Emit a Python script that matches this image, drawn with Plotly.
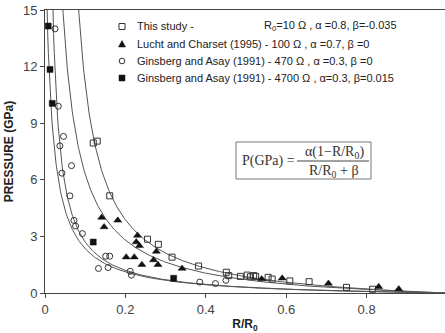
import numpy as np
import plotly.graph_objects as go

# ---- data ----
study_x = [0.12, 0.13, 0.161, 0.255, 0.282, 0.316, 0.382, 0.451, 0.457, 0.486, 0.503, 0.511,
           0.519, 0.524, 0.555, 0.565, 0.609, 0.657, 0.75, 0.815]
study_y = [7.95, 8.05, 5.15, 2.85, 2.58, 1.9, 1.43, 1.1, 0.92, 0.88, 0.95, 0.86,
           0.92, 0.88, 0.83, 0.74, 0.64, 0.6, 0.3, 0.2]

lucht_x = [0.141, 0.147, 0.181, 0.23, 0.227, 0.235, 0.202, 0.222, 0.241, 0.277, 0.27,
           0.281, 0.341, 0.539, 0.59, 0.705, 0.83, 0.88]
lucht_y = [4.0, 3.5, 3.85, 3.05, 2.7, 2.5, 1.9, 1.9, 1.5, 2.2, 1.75,
           1.5, 1.3, 0.74, 0.78, 0.51, 0.33, 0.21]

g470_x = [0.025, 0.033, 0.046, 0.037, 0.066, 0.042, 0.062, 0.072, 0.076, 0.093, 0.151,
          0.161, 0.133, 0.157, 0.212, 0.215, 0.385, 0.424, 0.45]
g470_y = [14.0, 9.9, 8.3, 7.8, 6.75, 6.35, 5.15, 3.85, 3.55, 3.15, 1.95,
          1.95, 1.3, 1.35, 1.15, 0.95, 0.58, 0.5, 0.67]

g4700_x = [0.008, 0.0125, 0.018, 0.12, 0.32, 1.0]
g4700_y = [14.15, 11.85, 10.05, 2.7, 0.78, 0.0]

# fit parameters (alpha, beta) for P = alpha(1-x)/(x+beta)
fits = [(0.8, -0.035), (0.7, 0.0), (0.3, 0.0), (0.3, 0.015)]

legend_left = ["This study -",
               "Lucht and Charset (1995) - 100 \u03a9 , \u03b1 =0.7, \u03b2 =0",
               "Ginsberg and Asay (1991) - 470 \u03a9 , \u03b1 =0.3, \u03b2 =0",
               "Ginsberg and Asay (1991) - 4700 \u03a9 , \u03b1=0.3, \u03b2=0.015"]
legend_extra = "R<sub>0</sub>=10 \u03a9 , \u03b1 =0.8, \u03b2=-0.035"

ink = "#333333"
dark = "#111111"
curve_col = "#555555"

# plot-area geometry in pixels (for paper-coordinate decorations)
L, T, W, H = 45, 10, 400, 283
def px(xp): return (xp - L) / W
def py(yp): return (T + H - yp) / H

fig = go.Figure()

# fit curves
for a, b in fits:
    x0 = (a - 20 * b) / (20 + a)  # where P ~ 20 (above the plot top)
    xs = np.linspace(max(x0, 1e-4), 1.0, 600)
    ys = a * (1 - xs) / (xs + b)
    fig.add_trace(go.Scatter(x=xs, y=ys, mode="lines", showlegend=False,
                             line=dict(color=curve_col, width=1), hoverinfo="skip"))

fig.add_trace(go.Scatter(x=study_x, y=study_y, mode="markers", showlegend=False,
                         marker=dict(symbol="square-open", color=ink, size=6,
                                     line=dict(color=ink, width=1)), cliponaxis=False))
fig.add_trace(go.Scatter(x=lucht_x, y=lucht_y, mode="markers", showlegend=False,
                         marker=dict(symbol="triangle-up", color=dark, size=7,
                                     line=dict(color=dark, width=0.5)), cliponaxis=False))
fig.add_trace(go.Scatter(x=g470_x, y=g470_y, mode="markers", showlegend=False,
                         marker=dict(symbol="circle-open", color=ink, size=6,
                                     line=dict(color=ink, width=1)), cliponaxis=False))
fig.add_trace(go.Scatter(x=g4700_x, y=g4700_y, mode="markers", showlegend=False,
                         marker=dict(symbol="square", color=dark, size=6,
                                     line=dict(color=dark, width=0.5)), cliponaxis=False))

# ---- hand-made legend (tight row spacing like the reference) ----
rows_y = [26.5, 44, 61, 78]
mx = 122
sans = dict(family="Liberation Sans, Arial", size=11, color="#222222")
# markers
r = 3
fig.add_shape(type="rect", xref="paper", yref="paper",
              x0=px(mx - r), x1=px(mx + r), y0=py(rows_y[0] + r), y1=py(rows_y[0] - r),
              line=dict(color=ink, width=1), fillcolor="white")
ty = rows_y[1]
fig.add_shape(type="path", xref="paper", yref="paper",
              path=f"M {px(mx-3.5)} {py(ty+3)} L {px(mx+3.5)} {py(ty+3)} L {px(mx)} {py(ty-3.5)} Z",
              line=dict(color=dark, width=0.5), fillcolor=dark)
fig.add_shape(type="circle", xref="paper", yref="paper",
              x0=px(mx - 2.8), x1=px(mx + 2.8), y0=py(rows_y[2] + 2.8), y1=py(rows_y[2] - 2.8),
              line=dict(color=ink, width=1), fillcolor="white")
fig.add_shape(type="rect", xref="paper", yref="paper",
              x0=px(mx - r), x1=px(mx + r), y0=py(rows_y[3] + r), y1=py(rows_y[3] - r),
              line=dict(color=dark, width=0.5), fillcolor=dark)
for txt, yy in zip(legend_left, rows_y):
    fig.add_annotation(xref="paper", yref="paper", x=px(135), y=py(yy), text=txt,
                       showarrow=False, font=sans, xanchor="left", yanchor="middle")
fig.add_annotation(xref="paper", yref="paper", x=px(262), y=py(rows_y[0]), text=legend_extra,
                   showarrow=False, font=sans, xanchor="left", yanchor="middle")

# ---- formula box ----
fig.add_shape(type="rect", xref="paper", yref="paper",
              x0=px(236), x1=px(371), y0=py(179), y1=py(142),
              line=dict(color="#777777", width=1), fillcolor="white")
fig.add_shape(type="line", xref="paper", yref="paper",
              x0=px(297), x1=px(369), y0=py(161), y1=py(161),
              line=dict(color="#444444", width=1))
serif = dict(family="Liberation Serif, Times New Roman, serif", size=14, color="#333333")
fig.add_annotation(xref="paper", yref="paper", x=px(268), y=py(161),
                   text="P(GPa) =", showarrow=False, font=serif, xanchor="center", yanchor="middle")
fig.add_annotation(xref="paper", yref="paper", x=px(334), y=py(152),
                   text="\u03b1(1\u2212R/R<sub>0</sub>)", showarrow=False, font=serif,
                   xanchor="center", yanchor="middle")
fig.add_annotation(xref="paper", yref="paper", x=px(334), y=py(171),
                   text="R/R<sub>0</sub> + \u03b2", showarrow=False, font=serif,
                   xanchor="center", yanchor="middle")

axis_common = dict(showline=True, linecolor="#444444", linewidth=1, mirror=True,
                   ticks="outside", ticklen=4, tickcolor="#444444", showgrid=False,
                   zeroline=False, tickfont=dict(family="Liberation Sans, Arial", size=13, color="#444444"))

fig.update_layout(
    width=445, height=333,
    margin=dict(l=L, r=0, t=T, b=40),
    paper_bgcolor="white", plot_bgcolor="white",
    showlegend=False,
    xaxis=dict(range=[0, 0.995], tickvals=[0, 0.2, 0.4, 0.6, 0.8], ticktext=["0", "0.2", "0.4", "0.6", "0.8"],
               title=dict(text="<b>R/R<sub>0</sub></b>", standoff=6,
                          font=dict(family="Liberation Sans, Arial", size=12, color="#222222")),
               **axis_common),
    yaxis=dict(range=[0, 15], tickvals=[0, 3, 6, 9, 12, 15],
               title=dict(text="<b>PRESSURE (GPa)</b>", standoff=6,
                          font=dict(family="Liberation Sans, Arial", size=12, color="#222222")),
               **axis_common),
)

fig.write_html("out.html")
